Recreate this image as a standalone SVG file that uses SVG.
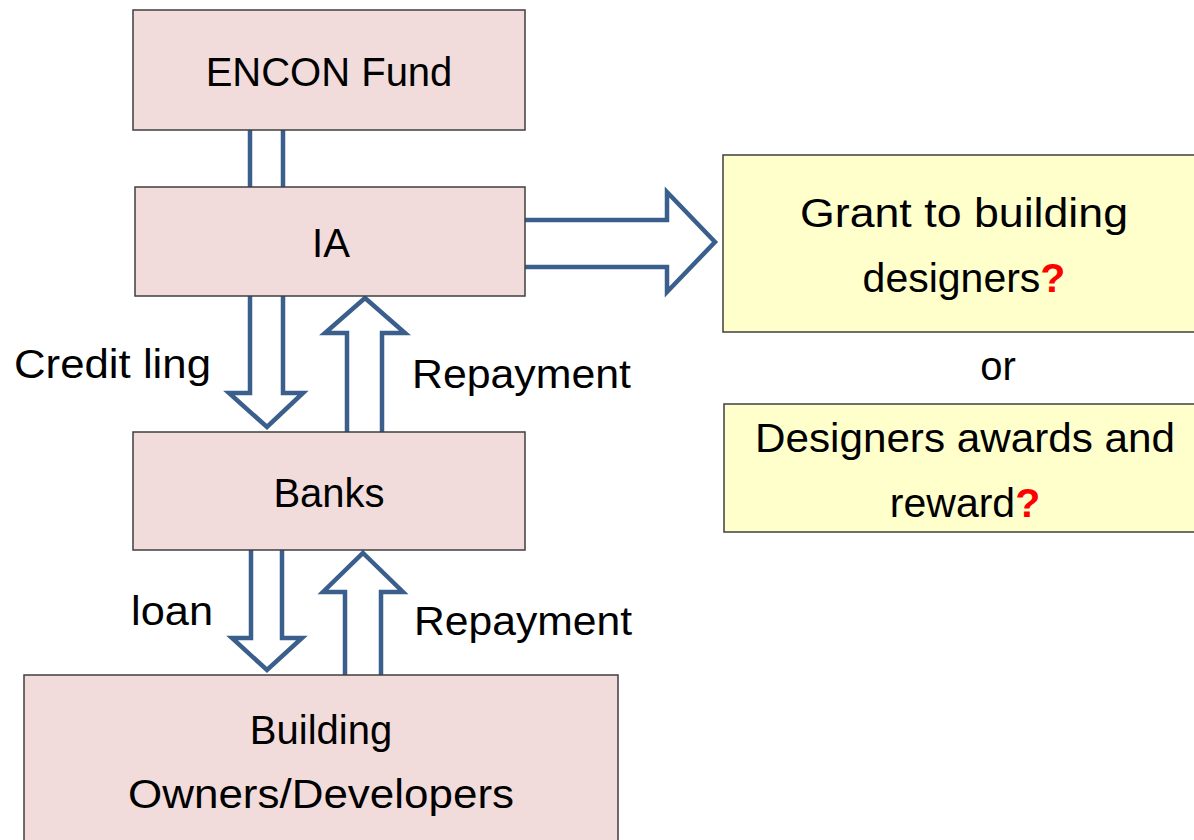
<svg xmlns="http://www.w3.org/2000/svg" width="1194" height="840" viewBox="0 0 1194 840">
<style>
.pink{fill:#F2DCDB;stroke:#3F3F3F;stroke-width:1.5}
.yel{fill:#FFFFCC;stroke:#3F3F3F;stroke-width:1.5}
.arr{fill:#FFFFFF;stroke:#3B5F8C;stroke-width:4.5;stroke-linejoin:miter}
.t{font-family:"Liberation Sans",Arial,sans-serif;font-size:40px;fill:#000}
.c{text-anchor:middle}
.q{fill:#FF0000;font-weight:bold}
</style>
<rect width="1194" height="840" fill="#FFFFFF"/>
<g id="connectors">
<polygon class="arr" points="250,110 283,110 283,200 250,200"/>
<polygon class="arr" points="250,280 283,280 283,393 303,393 267,427 229,393 250,393"/>
<polygon class="arr" points="365,298 405,333 382,333 382,445 347,445 347,333 325,333"/>
<polygon class="arr" points="251,540 282,540 282,638 302,638 267,670 232,638 251,638"/>
<polygon class="arr" points="363,553 403,592 381,592 381,690 345,690 345,592 323,592"/>
<polygon class="arr" points="510,220 667,220 667,192 715,242 667,292 667,267 510,267"/>
<text class="t" x="14" y="378" textLength="197" lengthAdjust="spacingAndGlyphs">Credit ling</text>
<text class="t" x="412" y="388" textLength="219" lengthAdjust="spacingAndGlyphs">Repayment</text>
<text class="t" x="131" y="625" textLength="82" lengthAdjust="spacingAndGlyphs">loan</text>
<text class="t" x="414" y="635" textLength="218" lengthAdjust="spacingAndGlyphs">Repayment</text>
<text class="t c" x="998" y="380">or</text>
</g>
<g id="encon">
<rect class="pink" x="133" y="10" width="392" height="120"/>
<text class="t c" x="329" y="86">ENCON Fund</text>
</g>
<g id="ia">
<rect class="pink" x="135" y="187" width="390" height="109"/>
<text class="t c" x="331" y="257">IA</text>
</g>
<g id="banks">
<rect class="pink" x="133" y="432" width="392" height="118"/>
<text class="t c" x="329" y="507">Banks</text>
</g>
<g id="owners">
<rect class="pink" x="24" y="675" width="594" height="180"/>
<text class="t c" x="321" y="744">Building</text>
<text class="t c" x="321" y="808" textLength="386" lengthAdjust="spacingAndGlyphs">Owners/Developers</text>
</g>
<g id="grant">
<rect class="yel" x="723" y="155" width="480" height="177"/>
<text class="t c" x="964" y="227" textLength="328" lengthAdjust="spacingAndGlyphs">Grant to building</text>
<text class="t c" x="964" y="292" style="font-size:41px">designers<tspan class="q">?</tspan></text>
</g>
<g id="awards">
<rect class="yel" x="724" y="404" width="480" height="128"/>
<text class="t c" x="965" y="452" textLength="420" lengthAdjust="spacingAndGlyphs">Designers awards and</text>
<text class="t c" x="965" y="517" style="font-size:41px">reward<tspan class="q">?</tspan></text>
</g>
</svg>
